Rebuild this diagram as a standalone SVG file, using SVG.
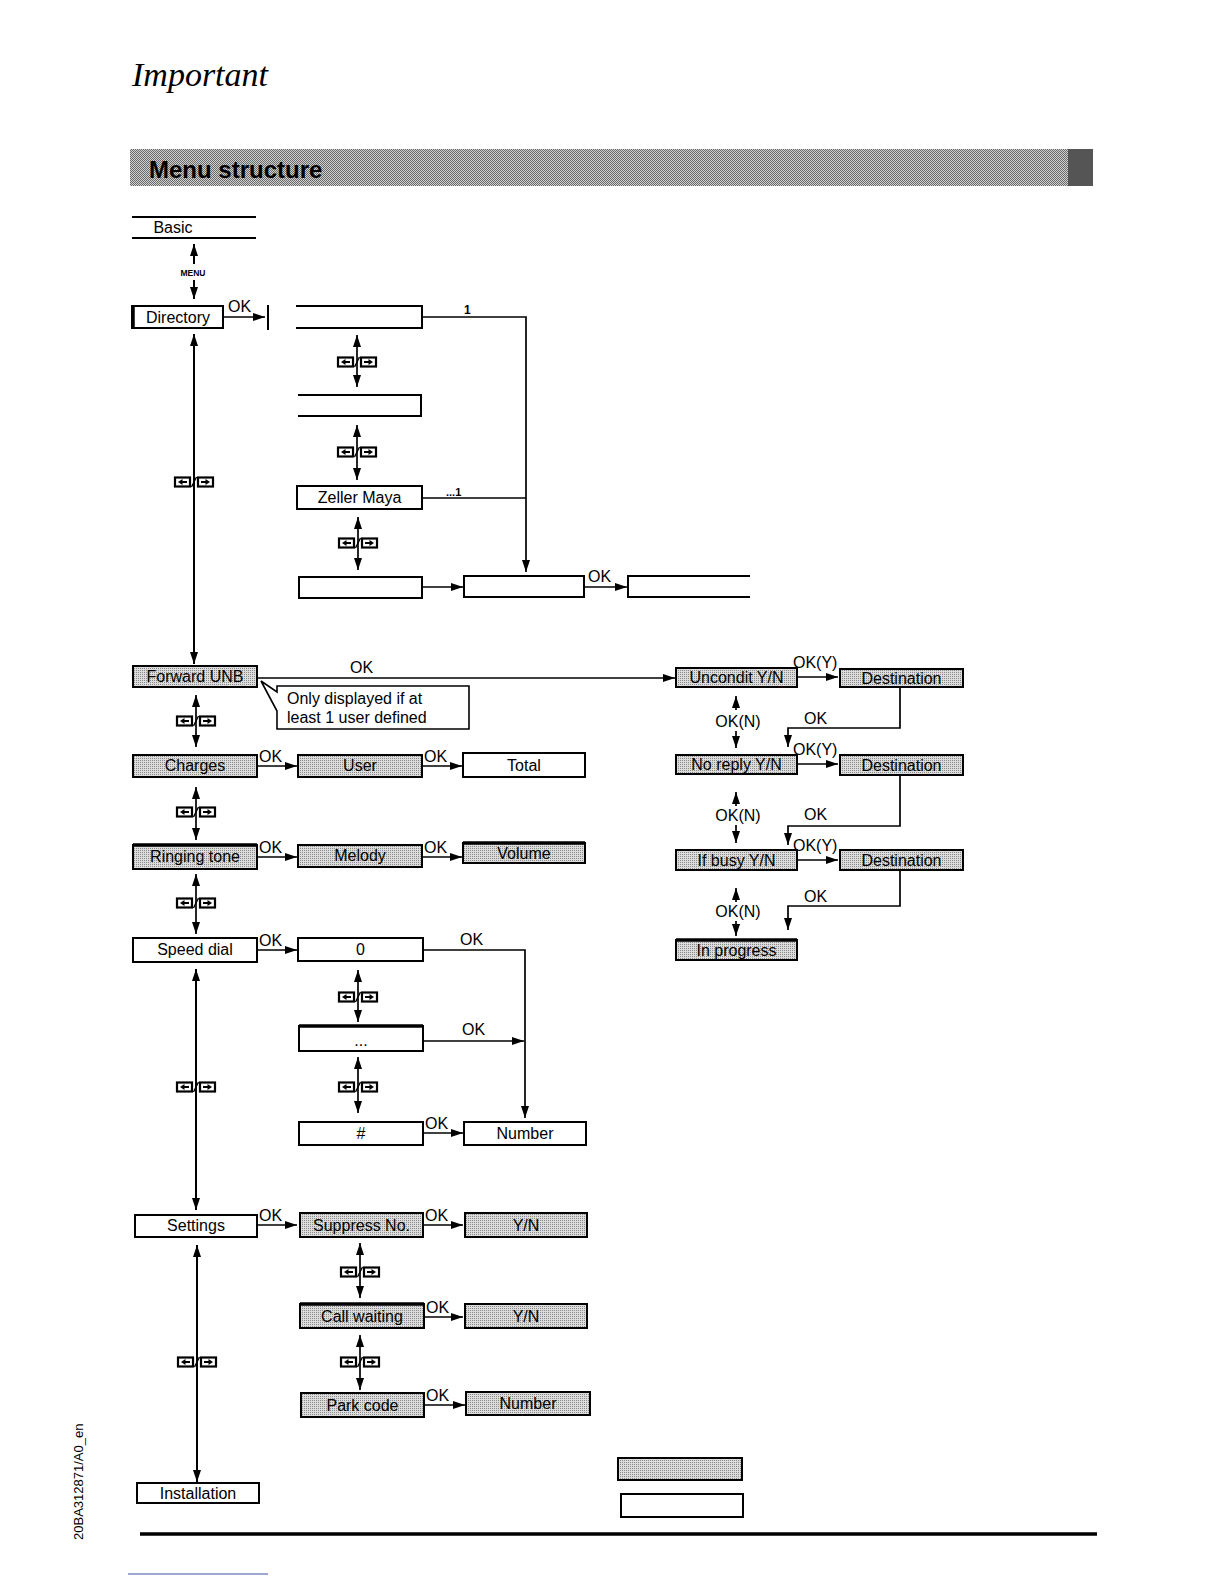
<svg xmlns="http://www.w3.org/2000/svg" xmlns:xlink="http://www.w3.org/1999/xlink" width="1224" height="1584" viewBox="0 0 1224 1584">
<style>
.b{fill:#fff;stroke:#000;stroke-width:2}
.s{fill:url(#dots);stroke:#000;stroke-width:2}
.o{fill:none;stroke:#000;stroke-width:2}
.t{font-family:"Liberation Sans",Arial,sans-serif;font-size:16px;text-anchor:middle;fill:#000}
.l{font-family:"Liberation Sans",Arial,sans-serif;font-size:16px;fill:#000}
.c{fill:none;stroke:#000;stroke-width:1.7}
.m{fill:none;stroke:#000;stroke-width:2}
.ar{marker-end:url(#a)}
.da{marker-start:url(#a);marker-end:url(#a)}
.tk{stroke:#000;stroke-width:3.5}
</style>
<defs>
<pattern id="dots" width="2" height="2" patternUnits="userSpaceOnUse"><rect width="2" height="2" fill="#dcdcdc"/><rect width="1" height="1" fill="#8a8a8a"/></pattern>
<pattern id="hdr" width="2" height="2" patternUnits="userSpaceOnUse"><rect width="2" height="2" fill="#d0d0d0"/><rect width="1" height="1" fill="#6a6a6a"/><rect x="1" y="1" width="1" height="1" fill="#6a6a6a"/></pattern>
<marker id="a" viewBox="0 0 12 8" refX="12" refY="4" markerWidth="12" markerHeight="8" markerUnits="userSpaceOnUse" orient="auto-start-reverse"><path d="M0,0 L12,4 L0,8 z" fill="#000"/></marker>
<g id="keys">
<rect x="-19" y="-4.5" width="15" height="9" fill="#fff" stroke="#000" stroke-width="2.2"/>
<path d="M-7,0 H-13" stroke="#000" stroke-width="2"/><path d="M-16,0 L-11.5,-3 L-11.5,3 z" fill="#000"/>
<path d="M-2.5,5 L2.5,-5" stroke="#000" stroke-width="1.4"/>
<rect x="4" y="-4.5" width="15" height="9" fill="#fff" stroke="#000" stroke-width="2.2"/>
<path d="M7,0 H13" stroke="#000" stroke-width="2"/><path d="M16,0 L11.5,-3 L11.5,3 z" fill="#000"/>
</g>
</defs>
<rect width="1224" height="1584" fill="#fff"/>

<text x="132" y="86" font-family="Liberation Serif, serif" font-style="italic" font-size="34">Important</text>
<g id="header">
<rect x="130" y="149" width="963" height="37" fill="url(#hdr)"/>
<rect x="1068" y="149" width="25" height="37" fill="#555"/>
<text x="149" y="178" font-family="Liberation Sans, Arial, sans-serif" font-weight="bold" font-size="24">Menu structure</text>
</g>

<!-- nodes -->
<g id="n-basic"><path d="M132,217 H256 M132,238 H256" class="o"/><text class="t" x="173" y="233" font-size="15">Basic</text></g>
<g id="n-directory"><rect class="b" x="132" y="306" width="91" height="22"/><path d="M133,305 V329" class="tk"/><text class="t" x="178" y="323">Directory</text></g>
<g id="n-dir1"><path d="M268,305 V330" class="o"/><path d="M296,306 H422 V328 H296" class="o"/></g>
<g id="n-dir2"><path d="M298,395 H421 V416 H298" class="o"/></g>
<g id="n-zeller"><rect class="b" x="297" y="486" width="125" height="23"/><text class="t" x="359.5" y="503">Zeller Maya</text></g>
<g id="n-dir3"><rect class="b" x="299" y="577" width="123" height="21"/></g>
<g id="n-dir4"><rect class="b" x="464" y="576" width="120" height="21"/></g>
<g id="n-dir5"><path d="M750,576 H628 V597 H750" class="o"/></g>

<g id="n-forward"><rect class="s" x="133" y="666" width="124" height="21"/><text class="t" x="195" y="682">Forward UNB</text></g>
<g id="n-callout"><path d="M277,686 H469 V729 H277 V711 L261,681 L277,692 Z" fill="#fff" stroke="#000" stroke-width="1.6"/>
<text class="l" x="287" y="704">Only displayed if at</text><text class="l" x="287" y="723">least 1 user defined</text></g>
<g id="n-charges"><rect class="s" x="133" y="755" width="124" height="22"/><text class="t" x="195" y="771">Charges</text></g>
<g id="n-user"><rect class="s" x="298" y="755" width="124" height="22"/><text class="t" x="360" y="771">User</text></g>
<g id="n-total"><rect class="b" x="463" y="753" width="122" height="24" stroke-width="2.6"/><text class="t" x="524" y="771">Total</text></g>
<g id="n-ringing"><rect class="s" x="133" y="845" width="124" height="24"/><path d="M133,845 H257" class="tk"/><text class="t" x="195" y="862">Ringing tone</text></g>
<g id="n-melody"><rect class="s" x="298" y="845" width="124" height="22"/><text class="t" x="360" y="861">Melody</text></g>
<g id="n-volume"><rect class="s" x="463" y="843" width="122" height="20"/><path d="M463,843 H585" class="tk"/><text class="t" x="524" y="859">Volume</text></g>

<g id="n-uncondit"><rect class="s" x="676" y="668" width="121" height="19"/><text class="t" x="736.5" y="683">Uncondit  Y/N</text></g>
<g id="n-dest1"><rect class="s" x="840" y="669" width="123" height="18"/><text class="t" x="901.5" y="684">Destination</text></g>
<g id="n-noreply"><rect class="s" x="676" y="755" width="121" height="19"/><text class="t" x="736.5" y="770">No reply Y/N</text></g>
<g id="n-dest2"><rect class="s" x="840" y="755" width="123" height="20"/><text class="t" x="901.5" y="771">Destination</text></g>
<g id="n-ifbusy"><rect class="s" x="676" y="850" width="121" height="20"/><text class="t" x="736.5" y="866">If busy Y/N</text></g>
<g id="n-dest3"><rect class="s" x="840" y="850" width="123" height="20"/><text class="t" x="901.5" y="866">Destination</text></g>
<g id="n-inprogress"><rect class="s" x="676" y="940" width="121" height="20"/><path d="M676,940 H797" class="tk"/><text class="t" x="736.5" y="956">In progress</text></g>

<g id="n-speed"><rect class="b" x="133" y="938" width="124" height="24"/><text class="t" x="195" y="955">Speed dial</text></g>
<g id="n-sd0"><rect class="b" x="298" y="938" width="125" height="23"/><text class="t" x="360.5" y="955">0</text></g>
<g id="n-sddots"><rect class="b" x="299" y="1026" width="124" height="25"/><path d="M299,1026 H423" class="tk"/><text class="t" x="361" y="1046">...</text></g>
<g id="n-sdhash"><rect class="b" x="299" y="1122" width="124" height="23"/><text class="t" x="361" y="1139">#</text></g>
<g id="n-sdnumber"><rect class="b" x="464" y="1122" width="122" height="23"/><text class="t" x="525" y="1139">Number</text></g>

<g id="n-settings"><rect class="b" x="135" y="1215" width="122" height="22"/><text class="t" x="196" y="1231">Settings</text></g>
<g id="n-suppress"><rect class="s" x="300" y="1213" width="123" height="24"/><text class="t" x="361.5" y="1231">Suppress No.</text></g>
<g id="n-yn1"><rect class="s" x="465" y="1213" width="122" height="24"/><text class="t" x="526" y="1231">Y/N</text></g>
<g id="n-callwait"><rect class="s" x="300" y="1304" width="124" height="24"/><path d="M300,1304 H424" class="tk"/><text class="t" x="362" y="1322">Call waiting</text></g>
<g id="n-yn2"><rect class="s" x="465" y="1304" width="122" height="24"/><text class="t" x="526" y="1322">Y/N</text></g>
<g id="n-park"><rect class="s" x="301" y="1393" width="123" height="24"/><text class="t" x="362.5" y="1411">Park code</text></g>
<g id="n-parknumber"><rect class="s" x="466" y="1392" width="124" height="23"/><text class="t" x="528" y="1409">Number</text></g>
<g id="n-install"><rect class="b" x="137" y="1483" width="122" height="20"/><text class="t" x="198" y="1499">Installation</text></g>

<g id="legend"><rect class="s" x="618" y="1458" width="124" height="22"/><rect class="b" x="621" y="1494" width="122" height="23"/></g>

<!-- connectors -->
<g id="connectors">
<path d="M194,264 V244" class="m ar"/><path d="M194,280 V299" class="m ar"/>
<text x="193" y="276" font-family="Liberation Sans, Arial, sans-serif" font-weight="bold" font-size="8.5" text-anchor="middle">MENU</text>

<path d="M223,317 H265" class="c ar"/><text class="l" x="228" y="312">OK</text>
<path d="M422,317 H526 V572" class="c ar"/><text x="464" y="314" font-family="Liberation Sans, Arial, sans-serif" font-weight="bold" font-size="12">1</text>
<path d="M422,498 H526" class="c"/><text x="446" y="496" font-family="Liberation Sans, Arial, sans-serif" font-weight="bold" font-size="11">...1</text>
<path d="M357,335 V387" class="c da"/><use xlink:href="#keys" x="357" y="362"/>
<path d="M357,425 V480" class="c da"/><use xlink:href="#keys" x="357" y="452"/>
<path d="M358,517 V570" class="c da"/><use xlink:href="#keys" x="358" y="543"/>
<path d="M422,587 H463" class="c ar"/>
<path d="M584,587 H627" class="c ar"/><text class="l" x="588" y="582">OK</text>

<path d="M194,334 V664" class="m da"/><use xlink:href="#keys" x="194" y="482"/>
<path d="M257,678 H675" class="c ar"/><text class="l" x="350" y="673">OK</text>
<path d="M196,695 V747" class="c da"/><use xlink:href="#keys" x="196" y="721"/>
<path d="M257,766 H297" class="c ar"/><text class="l" x="259" y="762">OK</text>
<path d="M422,766 H462" class="c ar"/><text class="l" x="424" y="762">OK</text>
<path d="M196,787 V840" class="c da"/><use xlink:href="#keys" x="196" y="812"/>
<path d="M257,857 H297" class="c ar"/><text class="l" x="259" y="853">OK</text>
<path d="M422,857 H462" class="c ar"/><text class="l" x="424" y="853">OK</text>
<path d="M196,874 V934" class="c da"/><use xlink:href="#keys" x="196" y="903"/>

<path d="M797,677 H838" class="c ar"/><text class="l" x="793" y="668">OK(Y)</text>
<path d="M797,764 H838" class="c ar"/><text class="l" x="793" y="755">OK(Y)</text>
<path d="M797,860 H838" class="c ar"/><text class="l" x="793" y="851">OK(Y)</text>
<path d="M900,687 V728 H788 V747" class="c ar"/><text class="l" x="804" y="724">OK</text>
<path d="M900,775 V826 H788 V845" class="c ar"/><text class="l" x="804" y="820">OK</text>
<path d="M900,870 V906 H788 V930" class="c ar"/><text class="l" x="804" y="902">OK</text>
<path d="M736,710 V696" class="c ar"/><path d="M736,731 V748" class="c ar"/><text class="t" x="738" y="727">OK(N)</text>
<path d="M736,806 V792" class="c ar"/><path d="M736,825 V843" class="c ar"/><text class="t" x="738" y="821">OK(N)</text>
<path d="M736,902 V888" class="c ar"/><path d="M736,921 V936" class="c ar"/><text class="t" x="738" y="917">OK(N)</text>

<path d="M257,950 H297" class="c ar"/><text class="l" x="259" y="946">OK</text>
<path d="M423,950 H525 V1118" class="c ar"/><text class="l" x="460" y="945">OK</text>
<path d="M423,1041 H524" class="c ar"/><text class="l" x="462" y="1035">OK</text>
<path d="M358,970 V1022" class="c da"/><use xlink:href="#keys" x="358" y="997"/>
<path d="M358,1057 V1113" class="c da"/><use xlink:href="#keys" x="358" y="1087"/>
<path d="M423,1133 H463" class="c ar"/><text class="l" x="425" y="1129">OK</text>
<path d="M196,969 V1210" class="m da"/><use xlink:href="#keys" x="196" y="1087"/>

<path d="M257,1225 H297" class="c ar"/><text class="l" x="259" y="1221">OK</text>
<path d="M423,1225 H463" class="c ar"/><text class="l" x="425" y="1221">OK</text>
<path d="M360,1243 V1298" class="c da"/><use xlink:href="#keys" x="360" y="1272"/>
<path d="M424,1317 H463" class="c ar"/><text class="l" x="426" y="1313">OK</text>
<path d="M360,1335 V1390" class="c da"/><use xlink:href="#keys" x="360" y="1362"/>
<path d="M424,1405 H465" class="c ar"/><text class="l" x="426" y="1401">OK</text>
<path d="M197,1245 V1482" class="m da"/><use xlink:href="#keys" x="197" y="1362"/>
</g>

<text transform="translate(83,1540) rotate(-90)" font-family="Liberation Sans, Arial, sans-serif" font-size="13">20BA312871/A0_en</text>
<path d="M140,1534 H1097" stroke="#000" stroke-width="3.5"/>
<path d="M128,1574 H268" stroke="#3a55a0" stroke-width="1"/>
</svg>
